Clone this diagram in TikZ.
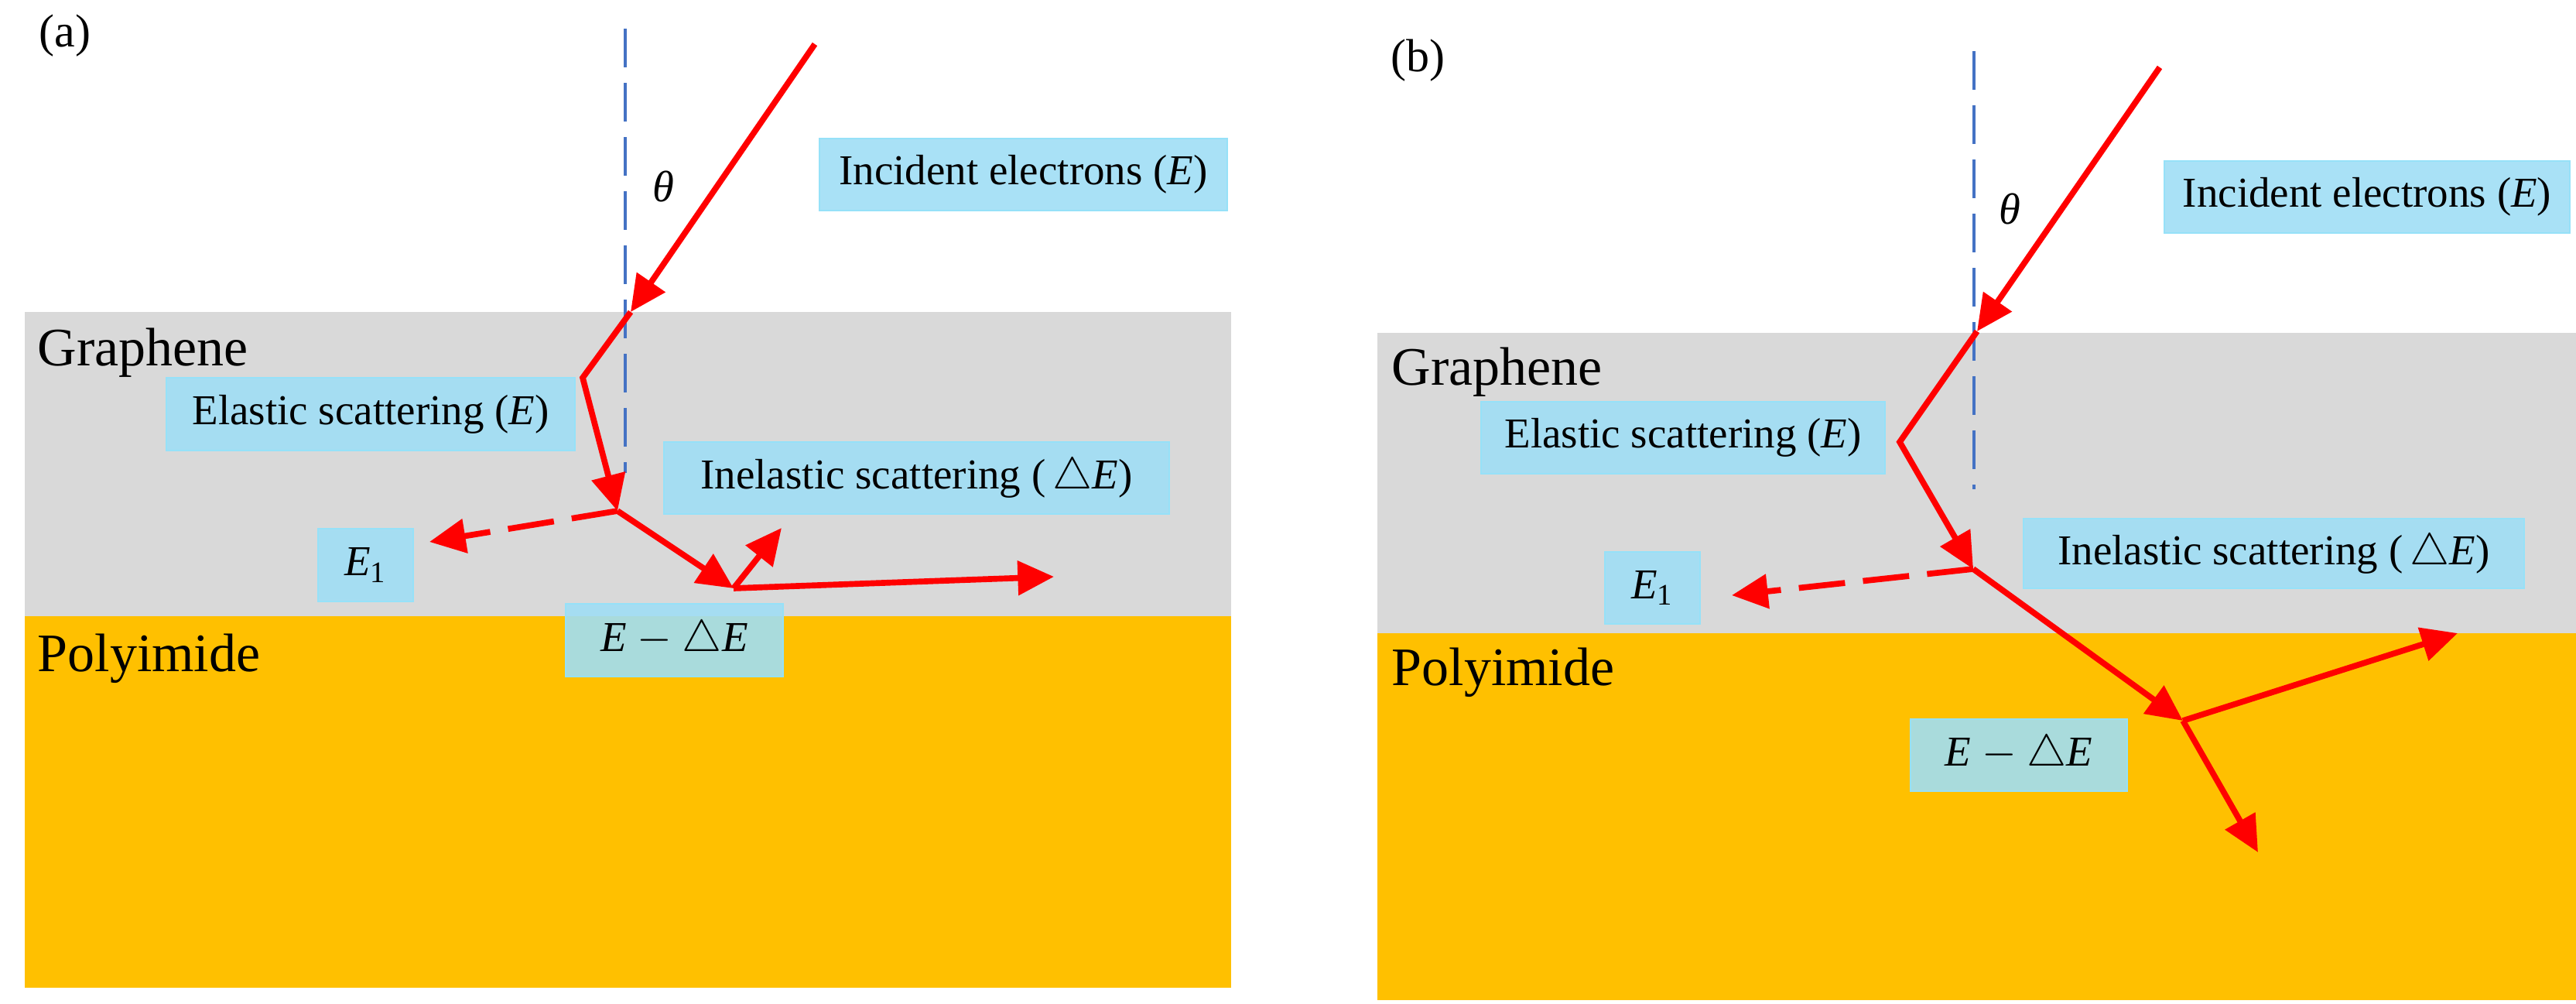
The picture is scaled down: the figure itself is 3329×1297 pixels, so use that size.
\documentclass[tikz,border=0pt]{standalone}
\usepackage{fontspec}
\setmainfont{Liberation Serif}
\usetikzlibrary{arrows.meta}
\definecolor{grlayer}{RGB}{217,217,217}
\definecolor{orlayer}{RGB}{255,192,0}
\definecolor{bxfill}{RGB}{160,222,245}
\definecolor{bxdraw}{RGB}{150,225,248}
\definecolor{ered}{RGB}{255,0,0}
\definecolor{nblue}{RGB}{68,114,196}
\newcommand{\dE}{$\triangle$\textit{E}}
\begin{document}
\begin{tikzpicture}[x=0.3pt,y=-0.3pt,
  lbl/.style={fill=bxfill, fill opacity=0.9, text opacity=1, draw=bxdraw, line width=0.6pt,
    inner sep=0pt, minimum height=28pt, font=\fontsize{16.5}{19}\selectfont},
  layertxt/.style={font=\fontsize{21}{25}\selectfont, anchor=base west, inner sep=0pt},
  paneltxt/.style={font=\fontsize{18}{22}\selectfont, inner sep=0pt},
  thetatxt/.style={font=\fontsize{17}{20}\selectfont, inner sep=0pt},
  ray/.style={draw=ered, line width=2.3pt, -{Triangle[length=14pt,width=13pt]}},
  eray/.style={ray, dash pattern=on 18pt off 7pt},
  normal/.style={draw=nblue, line width=1pt, dash pattern=on 15pt off 6pt}
]
\useasboundingbox (0,0) rectangle (3329,1297);
% ---------- panel (a) ----------
\fill[grlayer] (32,403) rectangle (1591,796);
\fill[orlayer] (32,796) rectangle (1591,1276);
\node[paneltxt] (pa) at (84,46) {(a)};
\node[layertxt] (ga) at (48,472) {Graphene};
\node[layertxt] (pia) at (48,867) {Polyimide};
\coordinate (na1) at (808,37);
\coordinate (na2) at (808,611);
\draw[normal] (na1) -- (na2);
\node[thetatxt] (tha) at (857,241) {\textit{θ}};
\node[lbl, minimum width=158.1pt] (ia) at (1322.5,225.5) {Incident electrons (\textit{E})};
\node[lbl, minimum width=158.4pt] (ela) at (479,535) {Elastic scattering (\textit{E})};
\node[lbl, minimum width=195.9pt] (ina) at (1184.5,617.5) {Inelastic scattering (\,\dE)};
\node[lbl, minimum width=36.9pt] (e1a) at (472.5,730) {\textit{E}\textsubscript{1}};
\node[lbl, minimum width=84.3pt] (eda) at (871.5,827) {\textit{E} $-$ \dE};
\coordinate (a0) at (1053,57);
\coordinate (a1) at (815,403);
\coordinate (a2) at (753,488);
\coordinate (a3) at (798,660);
\coordinate (a4) at (555,700);
\coordinate (a5) at (948,760);
\coordinate (a6) at (1010,682);
\coordinate (a7) at (1362,745);
\draw[ray] (a0) -- (a1);
\draw[ray] (a1) -- (a2) -- (a3);
\draw[eray] (a3) -- (a4);
\draw[ray] (a3) -- (a5);
\draw[ray] (a5) -- (a6);
\draw[ray] (a5) -- (a7);
% ---------- panel (b) ----------
\fill[grlayer] (1780,430) rectangle (3329,818);
\fill[orlayer] (1780,818) rectangle (3329,1292);
\node[paneltxt] (pb) at (1832,78) {(b)};
\node[layertxt] (gb) at (1798,497) {Graphene};
\node[layertxt] (pib) at (1798,885) {Polyimide};
\coordinate (nb1) at (2551,66);
\coordinate (nb2) at (2551,632);
\draw[normal] (nb1) -- (nb2);
\node[thetatxt] (thb) at (2597,270) {\textit{θ}};
\node[lbl, minimum width=157.2pt] (ib) at (3059,254.5) {Incident electrons (\textit{E})};
\node[lbl, minimum width=156.6pt] (elb) at (2175,565.5) {Elastic scattering (\textit{E})};
\node[lbl, minimum width=194.1pt, minimum height=27pt] (inb) at (2938.5,715) {Inelastic scattering (\,\dE)};
\node[lbl, minimum width=36.9pt] (e1b) at (2135.5,759.5) {\textit{E}\textsubscript{1}};
\node[lbl, minimum width=84pt] (edb) at (2609,975.5) {\textit{E} $-$ \dE};
\coordinate (b0) at (2791,87);
\coordinate (b1) at (2555,428);
\coordinate (b2) at (2455,571);
\coordinate (b3) at (2550,735);
\coordinate (b4) at (2238,769);
\coordinate (b5) at (2821,931);
\coordinate (b6) at (3176,818);
\coordinate (b7) at (2918,1101);
\draw[ray] (b0) -- (b1);
\draw[ray] (b1) -- (b2) -- (b3);
\draw[eray] (b3) -- (b4);
\draw[ray] (b3) -- (b5);
\draw[ray] (b5) -- (b6);
\draw[ray] (b5) -- (b7);
\end{tikzpicture}
\end{document}
